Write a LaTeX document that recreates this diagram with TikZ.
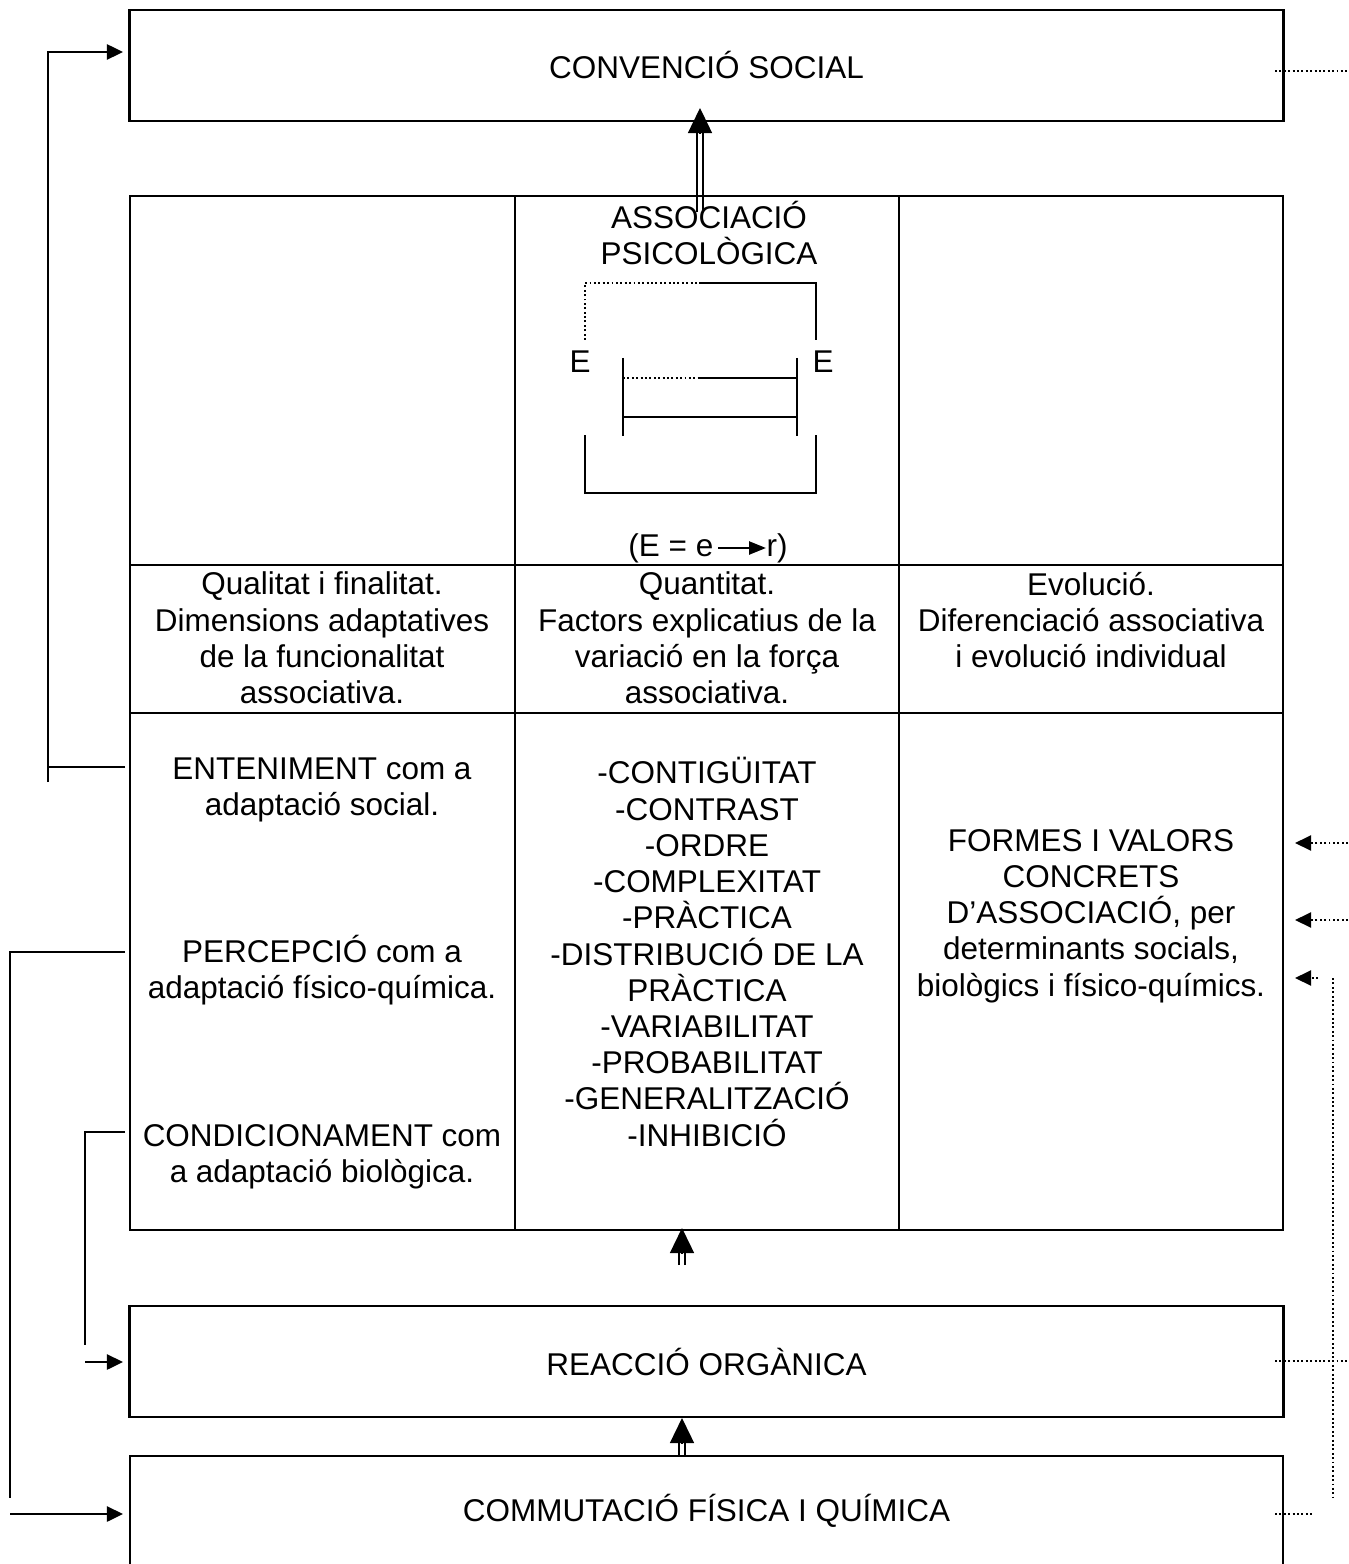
\documentclass[tikz,border=0pt]{standalone}
\usepackage{fontspec}
\setmainfont{Liberation Sans}
\usetikzlibrary{arrows.meta}

\tikzset{
  txt/.style={font=\fontsize{8.95pt}{10.3pt}\selectfont, align=center, inner sep=0pt},
  box/.style={draw, line width=0.7pt, minimum width=11.53cm, minimum height=1.11cm, txt},
  ln/.style={line width=0.7pt},
  dots/.style={line width=0.6pt, dash pattern=on 0.55pt off 0.7pt},
  stem/.style={line width=0.5pt},
  bigtip/.style={-{Triangle[length=0.25cm,width=0.24cm]}},
  smalltip/.style={-{Triangle[length=0.16cm,width=0.15cm]}},
}

\begin{document}
\begin{tikzpicture}[x=0.01cm, y=-0.01cm]
        \useasboundingbox (0,0) rectangle (1348,1564);

        \node[box] (social) at (706.5,65.5) {CONVENCIÓ SOCIAL};
        \node[box] (reaccio) at (706.5,1361.5) {REACCIÓ ORGÀNICA};
        \draw[ln] (130,1620) rectangle (1283,1456);
        \node[txt] (commut) at (706.5,1511) {COMMUTACIÓ FÍSICA I QUÍMICA};

        % table
        \draw[ln] (130,196) rectangle (1283,1230);
        \draw[ln] (515,196) -- (515,1230);
        \draw[ln] (899,196) -- (899,1230);
        \draw[ln] (130,565) -- (1283,565);
        \draw[ln] (130,713) -- (1283,713);

        \node[txt] (assoc) at (709,233) {ASSOCIACIÓ\\PSICOLÒGICA};
        \node[txt] (eL) at (580,362) {E};
        \node[txt] (eR) at (823,362) {E};
        \draw[dots] (585,340) -- (585,283) -- (700,283);
        \draw[ln] (700,283) -- (816,283) -- (816,340);
        \draw[ln] (585,435) -- (585,493) -- (816,493) -- (816,435);
        \draw[ln] (623,358) -- (623,436);
        \draw[ln] (797,358) -- (797,436);
        \draw[dots] (623,378) -- (700,378);
        \draw[ln] (700,378) -- (797,378);
        \draw[ln] (623,417) -- (797,417);
        \node[txt, anchor=east] (eqL) at (714,548) {(E = e};
        \node[txt, anchor=west] (eqR) at (766,548) {r)};
        \draw[ln, -{Triangle[length=0.17cm,width=0.13cm]}, shorten <=1.2pt] (eqL.east) -- (eqR.west);

        \node[txt] (qual) at (322,638) {Qualitat i finalitat.\\Dimensions adaptatives\\de la funcionalitat\\associativa.};
        \node[txt] (quant) at (707,638) {Quantitat.\\Factors explicatius de la\\variació en la força\\associativa.};
        \node[txt] (evol) at (1091,620) {Evolució.\\Diferenciació associativa\\i evolució individual};

        \node[txt] (enten) at (322,790) {ENTENIMENT com a\\adaptació social.};
        \node[txt] (percep) at (322,970) {PERCEPCIÓ com a\\adaptació físico-química.};
        \node[txt] (condic) at (322,1157) {CONDICIONAMENT com\\a adaptació biològica.};
        \node[txt] (factors) at (707,952) {-CONTIGÜITAT\\-CONTRAST\\-ORDRE\\-COMPLEXITAT\\-PRÀCTICA\\-DISTRIBUCIÓ DE LA\\PRÀCTICA\\-VARIABILITAT\\-PROBABILITAT\\-GENERALITZACIÓ\\-INHIBICIÓ};
        \node[txt] (formes) at (1091,916) {FORMES I VALORS\\CONCRETS\\D’ASSOCIACIÓ, per\\determinants socials,\\biològics i físico-químics.};

        % double arrows
        \coordinate (upA) at (700,212);
        \coordinate (upTip) at (700,108);
        \draw[stem] ([xshift=-0.03cm]upA) -- ([xshift=-0.03cm,yshift=-0.22cm]upTip);
        \draw[stem] ([xshift=0.03cm]upA) -- ([xshift=0.03cm,yshift=-0.22cm]upTip);
        \draw[bigtip] ([yshift=-0.25cm]upTip) -- (upTip);

        \coordinate (upB) at (682,1265);
        \coordinate (upBTip) at (682,1228);
        \draw[stem] ([xshift=-0.03cm]upB) -- ([xshift=-0.03cm,yshift=-0.22cm]upBTip);
        \draw[stem] ([xshift=0.03cm]upB) -- ([xshift=0.03cm,yshift=-0.22cm]upBTip);
        \draw[bigtip] ([yshift=-0.25cm]upBTip) -- (upBTip);

        \coordinate (upC) at (682,1455);
        \coordinate (upCTip) at (682,1418);
        \draw[stem] ([xshift=-0.03cm]upC) -- ([xshift=-0.03cm,yshift=-0.22cm]upCTip);
        \draw[stem] ([xshift=0.03cm]upC) -- ([xshift=0.03cm,yshift=-0.22cm]upCTip);
        \draw[bigtip] ([yshift=-0.25cm]upCTip) -- (upCTip);

        % left connectors
        \coordinate (entOut) at (125,767);
        \coordinate (socIn) at (123,52);
        \draw[ln] (entOut) -- (48,767);
        \draw[ln, smalltip] (48,782) -- (48,52) -- (socIn);

        \coordinate (perOut) at (125,952);
        \coordinate (comIn) at (123,1514);
        \draw[ln] (perOut) -- (10,952) -- (10,1498);
        \draw[ln, smalltip] (10,1514) -- (comIn);

        \coordinate (conOut) at (125,1132);
        \coordinate (reaIn) at (123,1362);
        \draw[ln] (conOut) -- (85,1132) -- (85,1345);
        \draw[ln, smalltip] (85,1362) -- (reaIn);

        % right connectors
        \draw[dots] (1275,71) -- (1348,71);
        \draw[dots, smalltip] (1348,843) -- (1295,843);
        \draw[dots, smalltip] (1348,920) -- (1295,920);
        \draw[dots, smalltip] (1318,978) -- (1295,978);
        \draw[dots] (1333,978) -- (1333,1497);
        \draw[dots] (1275,1361) -- (1348,1361);
        \draw[dots] (1275,1514) -- (1312,1514);
    \end{tikzpicture}
\end{document}
